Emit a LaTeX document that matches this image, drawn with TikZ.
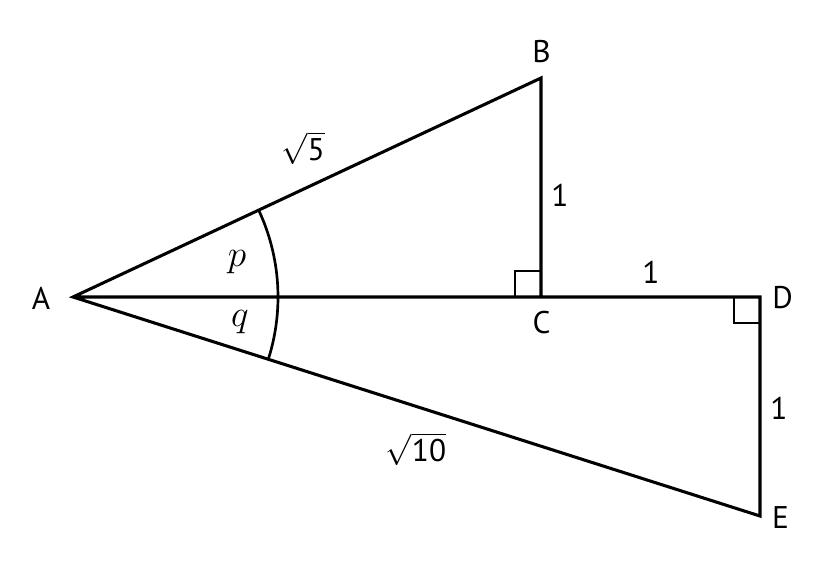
\RequirePackage{fix-cm}
\documentclass[tikz,border=0pt]{standalone}
\usepackage{fontspec}
\setmainfont{PT Sans}
\usetikzlibrary{calc}
\begin{document}
\begin{tikzpicture}[x=0.75pt,y=-0.75pt,
  seg/.style={line width=2.3pt,line join=miter},
  lbl/.style={font=\fontsize{23.5}{26}\selectfont,inner sep=0pt},
  ang/.style={font=\fontsize{28}{30}\selectfont,inner sep=0pt}]
\useasboundingbox (0,0) rectangle (823,568);
\coordinate (A) at (73,297);
\coordinate (B) at (541,78);
\coordinate (C) at (541,297);
\coordinate (D) at (760,297);
\coordinate (E) at (760,516);
\draw[seg] (C) -- (B) -- (A) -- (E) -- (D) -- (A);
% right angles
\draw[line width=2pt] ($(C)+(-26,0)$) -- ++(0,-26) -- ++(26,0);
\draw[line width=2pt] ($(D)+(-26,0)$) -- ++(0,26) -- ++(26,0);
% arc
\path (A) ++(-25.08:205) coordinate (arcS);
\draw[line width=2pt] (arcS) arc[start angle=-25.08,end angle=17.68,radius=205];
% labels
\node[lbl] (lA) at (41,298) {A};
\node[lbl] (lB) at (541.5,52) {B};
\node[lbl] (lC) at (541.5,323) {C};
\node[lbl] (lD) at (782.5,298) {D};
\node[lbl] (lE) at (780.5,517.5) {E};
\node[lbl] (l1) at (560,195) {1};
\node[lbl] (l2) at (651,272.5) {1};
\node[lbl] (l3) at (779,408) {1};
\node[lbl] (s5) at (303,148) {$\sqrt{\mbox{5}}$};
\node[lbl] (s10) at (416,449) {$\sqrt{\mbox{10}}$};
\node[ang] (p) at (237,262) {$p$};
\node[ang] (q) at (240,322) {$q$};
\end{tikzpicture}
\end{document}
